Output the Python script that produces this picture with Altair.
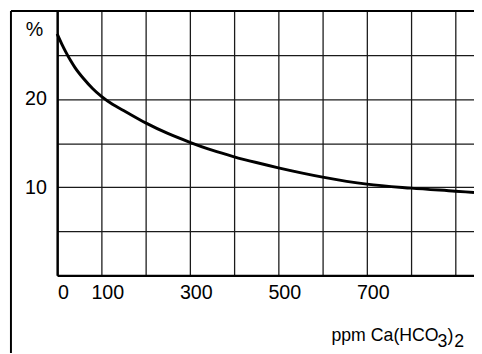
import altair as alt
import pandas as pd

# curve
conc = [0, 10, 20, 30, 40, 60, 80, 100, 125, 150, 200, 250, 300, 350, 400, 450, 500, 600, 700, 800, 900, 942]
pct = [27.4, 26.3, 25.3, 24.4, 23.6, 22.3, 21.2, 20.3, 19.4, 18.7, 17.3, 16.1, 15.1, 14.2, 13.45, 12.8, 12.2, 11.15, 10.35, 9.9, 9.55, 9.4]

x_grid = [0, 100, 200, 300, 400, 500, 600, 700, 800, 900]
x_labels = [0, 100, 300, 500, 700]
y_grid = [0, 5, 10, 15, 20, 25, 30]
y_labels = [10, 20]

x_title_parts = ["ppm Ca(HCO", "3", ")", "2"]
y_unit = "%"

df = pd.DataFrame({"conc": conc, "pct": pct})
one = pd.DataFrame({"a": [0]})

FONT = "Liberation Sans"

xs = alt.Scale(domain=[0, 942], nice=False, zero=False)
ys = alt.Scale(domain=[0, 30], nice=False)

def expr(vals):
    return "indexof([" + ",".join(str(v) for v in vals) + "], datum.value) >= 0 ? datum.label : ''"

line = alt.Chart(df).mark_line(color="black", strokeWidth=3, interpolate="monotone").encode(
    x=alt.X("conc:Q", scale=xs, axis=alt.Axis(
        values=x_grid, labelExpr=expr(x_labels), grid=True, ticks=False,
        domainWidth=2.5, domainColor="black", gridColor="#1a1a1a", gridWidth=1.3,
        labelFont=FONT, labelFontSize=20, labelColor="black", labelPadding=8,
        labelOffset=6, title=None, labelFlush=False, labelOverlap=False)),
    y=alt.Y("pct:Q", scale=ys, axis=alt.Axis(
        values=y_grid, labelExpr=expr(y_labels), grid=True, ticks=False,
        domainWidth=2.5, domainColor="black", gridColor="#1a1a1a", gridWidth=1.3,
        labelFont=FONT, labelFontSize=20, labelColor="black", labelPadding=11,
        title=None, labelFlush=False, labelOverlap=False)),
)

frame_top = alt.Chart(one).mark_rule(color="black", strokeWidth=2).encode(
    x=alt.value(-47), x2=alt.value(424), y=alt.value(0))
frame_left = alt.Chart(one).mark_rule(color="black", strokeWidth=2).encode(
    x=alt.value(-47), y=alt.value(0), y2=alt.value(360))

unit = alt.Chart(one).mark_text(text=y_unit, font=FONT, fontSize=20, color="black",
                                align="center", baseline="middle").encode(
    x=alt.value(-23), y=alt.value(20))

pos = [(279, 336), (387, 342), (397, 336), (404, 342)]
parts = []
for txt, (px, py) in zip(x_title_parts, pos):
    parts.append(alt.Chart(one).mark_text(text=txt, font=FONT, fontSize=18, color="black",
                                          align="left", baseline="alphabetic").encode(
        x=alt.value(px), y=alt.value(py)))

chart = alt.layer(line, frame_top, frame_left, unit, *parts).properties(
    width=424, height=269,
    autosize=alt.AutoSizeParams(type="none"),
    padding={"left": 50, "top": 0, "right": 0, "bottom": 76},
).configure_view(stroke=None)

chart.save("out.html", embed_options={"renderer": "svg", "actions": False})
